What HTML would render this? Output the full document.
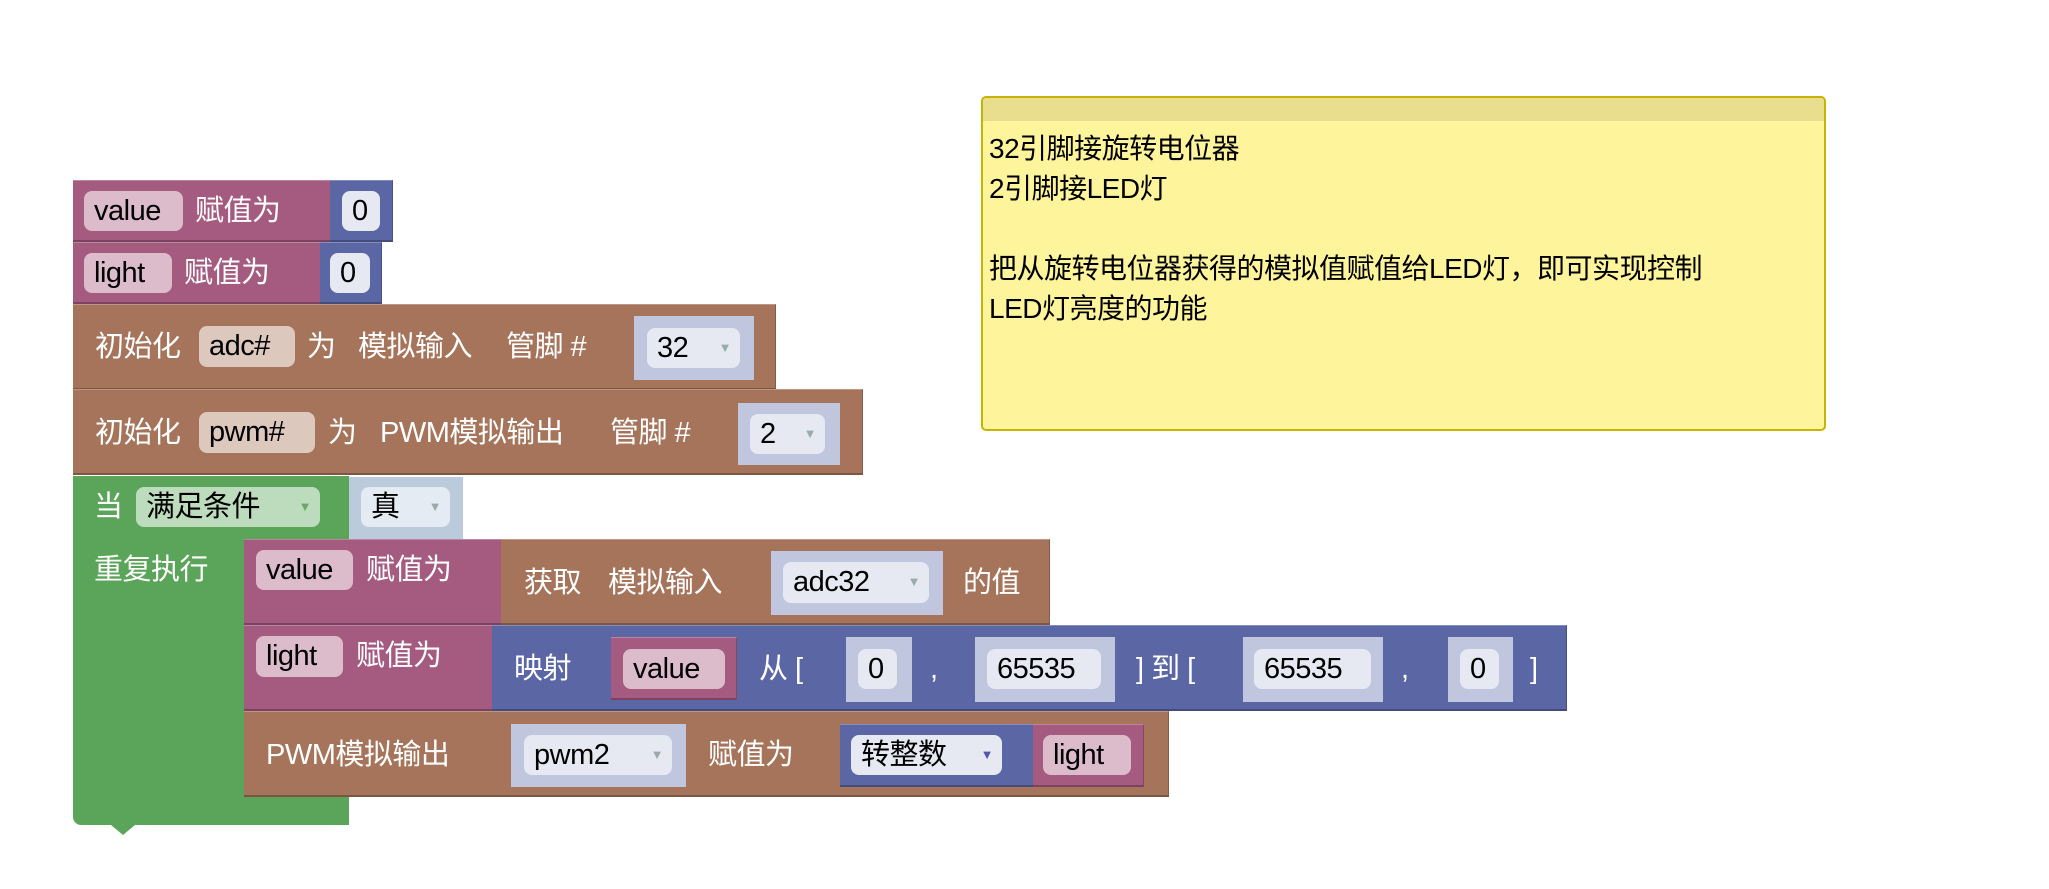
<!DOCTYPE html>
<html><head><meta charset="utf-8"><style>
body{margin:0;width:2049px;height:889px;background:#fff;position:relative;overflow:hidden;font-family:"Liberation Sans","Noto Sans CJK SC",sans-serif;}
div{position:absolute;box-sizing:border-box;}
.b{border-bottom:2px solid rgba(0,0,0,.25);border-right:1px solid rgba(0,0,0,.2);border-top:1px solid rgba(255,255,255,.25);}
.pk{background:#a55b80}.bl{background:#5b67a5}.br{background:#a5745b}.gr{background:#5ba55b}.sl{background:#c0c6dd}.sb{background:#bccbdb}
.t{color:#fff;font-size:29px;line-height:40px;white-space:nowrap;letter-spacing:-0.5px}
.f{border-radius:8px;color:#000;font-size:29px;line-height:40px;white-space:nowrap;padding-left:10px;letter-spacing:-0.5px}
.fp{background:#dcbccb}.fb{background:#dcc8bd}.fs{background:#e6e9f2}.fg{background:#bddcbd}.fu{background:#e4ebf2}
.ar{color:#9aa;font-size:13px;position:absolute;right:9px;top:0;}
.nt{width:0;height:0;border-left:12px solid transparent;border-right:12px solid transparent;}
</style></head><body>

<!-- block 1 -->
<div class="b pk" style="left:73px;top:180px;width:258px;height:62px"></div>
<div class="b bl" style="left:330px;top:180px;width:63px;height:62px"></div>
<div class="f fp" style="left:84px;top:191px;width:99px;height:40px">value</div>
<div class="t" style="left:195px;top:191px">赋值为</div>
<div class="f fs" style="left:342px;top:191px;width:38px;height:40px">0</div>
<!-- block 2 -->
<div class="b pk" style="left:73px;top:242px;width:248px;height:62px"></div>
<div class="b bl" style="left:320px;top:242px;width:62px;height:62px"></div>
<div class="f fp" style="left:84px;top:253px;width:88px;height:40px">light</div>
<div class="t" style="left:184px;top:253px">赋值为</div>
<div class="f fs" style="left:330px;top:253px;width:40px;height:40px">0</div>
<!-- block 3 -->
<div class="b br" style="left:73px;top:304px;width:703px;height:86px"></div>
<div class="t" style="left:95px;top:327px">初始化</div>
<div class="f fb" style="left:199px;top:326px;width:96px;height:41px">adc#</div>
<div class="t" style="left:307px;top:327px">为</div>
<div class="t" style="left:358px;top:327px">模拟输入</div>
<div class="t" style="left:506px;top:327px">管脚 #</div>
<div class="sl" style="left:634px;top:316px;width:120px;height:64px"></div>
<div class="f fs" style="left:647px;top:328px;width:93px;height:40px">32<span class="ar">▼</span></div>
<!-- block 4 -->
<div class="b br" style="left:73px;top:389px;width:790px;height:86px"></div>
<div class="t" style="left:95px;top:413px">初始化</div>
<div class="f fb" style="left:199px;top:412px;width:116px;height:41px">pwm#</div>
<div class="t" style="left:328px;top:413px">为</div>
<div class="t" style="left:380px;top:413px">PWM模拟输出</div>
<div class="t" style="left:610px;top:413px">管脚 #</div>
<div class="sl" style="left:738px;top:403px;width:102px;height:62px"></div>
<div class="f fs" style="left:750px;top:414px;width:75px;height:40px">2<span class="ar">▼</span></div>

<!-- green loop -->
<div class="gr" style="left:73px;top:476px;width:276px;height:63px"></div>
<div class="gr" style="left:73px;top:538px;width:171px;height:260px"></div>
<div class="gr" style="left:73px;top:797px;width:276px;height:28px;border-bottom-left-radius:8px"></div>
<div class="nt" style="left:111px;top:825px;border-top:10px solid #5ba55b"></div>
<div class="sb" style="left:349px;top:477px;width:114px;height:62px"></div>
<div class="t" style="left:94px;top:487px">当</div>
<div class="f fg" style="left:136px;top:487px;width:184px;height:40px">满足条件<span class="ar" style="color:#6a6">▼</span></div>
<div class="f fu" style="left:361px;top:487px;width:89px;height:40px">真<span class="ar">▼</span></div>
<div class="t" style="left:94px;top:550px">重复执行</div>

<!-- inner A -->
<div class="b pk" style="left:244px;top:539px;width:258px;height:86px"></div>
<div class="b br" style="left:501px;top:539px;width:549px;height:86px"></div>
<div class="f fp" style="left:256px;top:550px;width:97px;height:40px">value</div>
<div class="t" style="left:366px;top:550px">赋值为</div>
<div class="t" style="left:524px;top:563px">获取</div>
<div class="t" style="left:608px;top:563px">模拟输入</div>
<div class="sl" style="left:771px;top:551px;width:172px;height:64px"></div>
<div class="f fs" style="left:783px;top:562px;width:146px;height:41px">adc32<span class="ar">▼</span></div>
<div class="t" style="left:963px;top:563px">的值</div>

<!-- inner B -->
<div class="b pk" style="left:244px;top:625px;width:249px;height:86px"></div>
<div class="b bl" style="left:492px;top:625px;width:1075px;height:86px"></div>
<div class="f fp" style="left:256px;top:636px;width:87px;height:41px">light</div>
<div class="t" style="left:356px;top:636px">赋值为</div>
<div class="t" style="left:514px;top:649px">映射</div>
<div class="b pk" style="left:611px;top:637px;width:126px;height:63px"></div>
<div class="f fp" style="left:623px;top:649px;width:102px;height:40px">value</div>
<div class="t" style="left:759px;top:649px">从 [</div>
<div class="sl" style="left:846px;top:637px;width:66px;height:65px"></div>
<div class="f fs" style="left:858px;top:649px;width:39px;height:40px">0</div>
<div class="t" style="left:930px;top:649px">,</div>
<div class="sl" style="left:975px;top:637px;width:140px;height:65px"></div>
<div class="f fs" style="left:987px;top:649px;width:114px;height:40px">65535</div>
<div class="t" style="left:1136px;top:649px">] 到 [</div>
<div class="sl" style="left:1243px;top:637px;width:140px;height:65px"></div>
<div class="f fs" style="left:1254px;top:649px;width:117px;height:40px">65535</div>
<div class="t" style="left:1401px;top:649px">,</div>
<div class="sl" style="left:1448px;top:637px;width:65px;height:65px"></div>
<div class="f fs" style="left:1460px;top:649px;width:39px;height:40px">0</div>
<div class="t" style="left:1530px;top:649px">]</div>

<!-- inner C -->
<div class="b br" style="left:244px;top:711px;width:925px;height:86px"></div>
<div class="t" style="left:266px;top:735px">PWM模拟输出</div>
<div class="sl" style="left:511px;top:724px;width:175px;height:63px"></div>
<div class="f fs" style="left:524px;top:735px;width:148px;height:40px">pwm2<span class="ar">▼</span></div>
<div class="t" style="left:708px;top:735px">赋值为</div>
<div class="b bl" style="left:840px;top:724px;width:194px;height:63px"></div>
<div class="f fs" style="left:851px;top:735px;width:151px;height:40px">转整数<span class="ar" style="color:#55a">▼</span></div>
<div class="b pk" style="left:1033px;top:724px;width:111px;height:63px"></div>
<div class="f fp" style="left:1043px;top:735px;width:88px;height:40px">light</div>

<!-- comment -->
<div style="left:981px;top:96px;width:845px;height:335px;background:#fef49c;border:2px solid #c8b400;border-radius:5px;overflow:hidden">
<div style="left:0;top:0;width:100%;height:23px;background:#e8de8e"></div>
<div style="left:6px;top:31px;font-size:28px;line-height:40px;color:#000;white-space:pre;letter-spacing:-0.5px">32引脚接旋转电位器
2引脚接LED灯

把从旋转电位器获得的模拟值赋值给LED灯，即可实现控制
LED灯亮度的功能</div>
</div>
</body></html>
